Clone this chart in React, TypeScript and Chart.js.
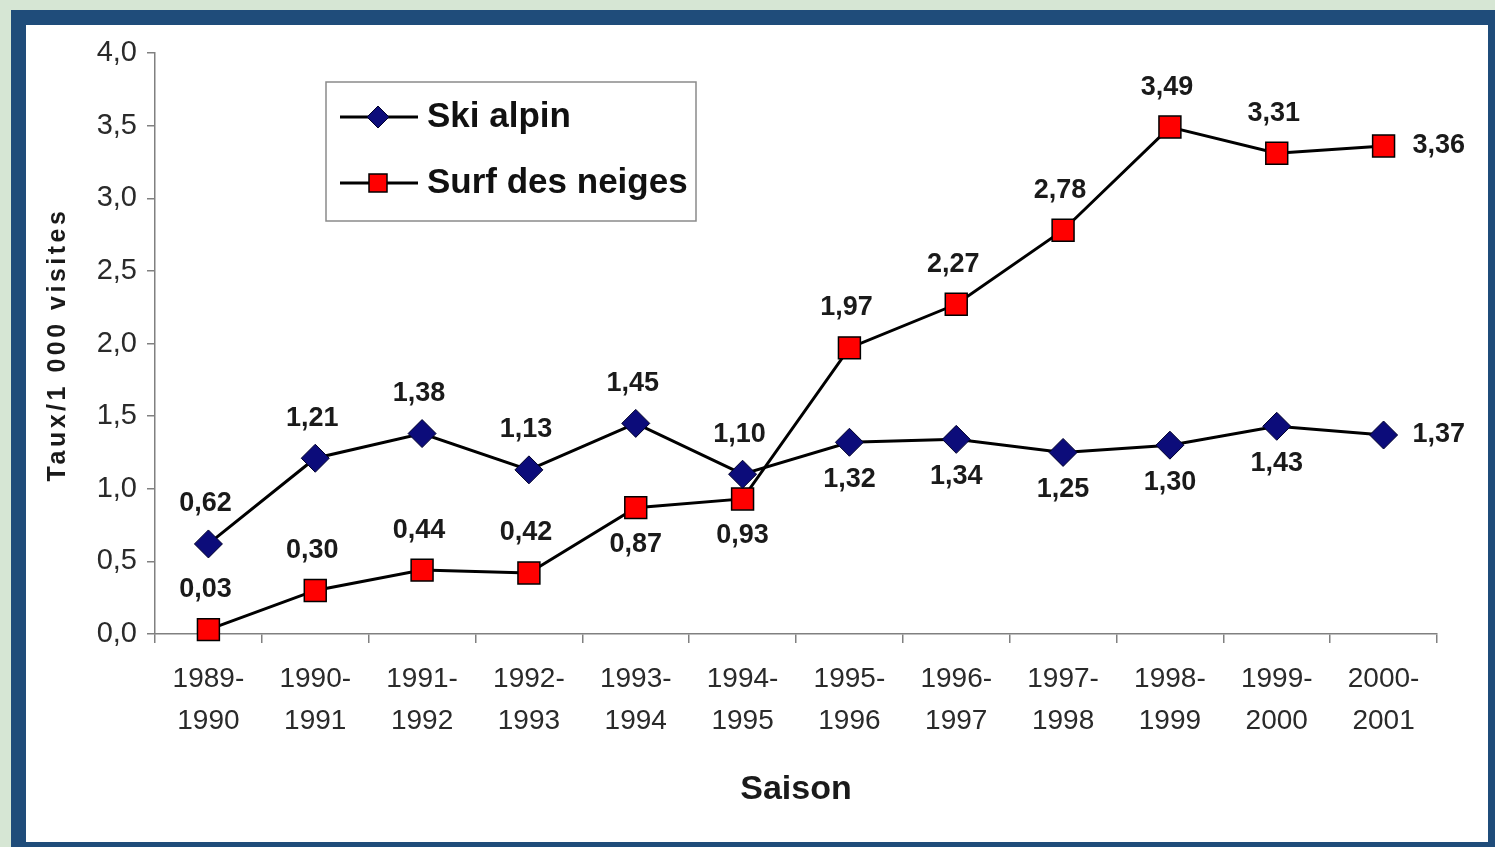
import React, { useEffect, useRef } from 'react';
import { Chart, registerables } from 'chart.js';

Chart.register(...registerables);

const seasons: string[][] = [
  ['1989-', '1990'], ['1990-', '1991'], ['1991-', '1992'], ['1992-', '1993'],
  ['1993-', '1994'], ['1994-', '1995'], ['1995-', '1996'], ['1996-', '1997'],
  ['1997-', '1998'], ['1998-', '1999'], ['1999-', '2000'], ['2000-', '2001'],
];
const skiAlpin = [0.62, 1.21, 1.38, 1.13, 1.45, 1.10, 1.32, 1.34, 1.25, 1.30, 1.43, 1.37];
const surfDesNeiges = [0.03, 0.30, 0.44, 0.42, 0.87, 0.93, 1.97, 2.27, 2.78, 3.49, 3.31, 3.36];
const skiLabelPlacement = ['above', 'above', 'above', 'above', 'above', 'above', 'below', 'below', 'below', 'below', 'below', 'right'];
const surfLabelPlacement = ['above', 'above', 'above', 'above', 'below', 'below', 'above', 'above', 'above', 'above', 'above', 'right'];
const seriesNames = ['Ski alpin', 'Surf des neiges'];
const yAxisTitle = 'Taux/1 000 visites';
const xAxisTitle = 'Saison';

const FONT = "'Liberation Sans', Arial, sans-serif";
const fmt = (v: number, d: number) => v.toFixed(d).replace('.', ',');

function drawMarker(ctx: CanvasRenderingContext2D, style: string, x: number, y: number, r: number, fill: string, stroke: string, lw: number) {
  ctx.save();
  ctx.beginPath();
  if (style === 'rectRot') {
    ctx.moveTo(x, y - r);
    ctx.lineTo(x + r, y);
    ctx.lineTo(x, y + r);
    ctx.lineTo(x - r, y);
    ctx.closePath();
  } else {
    ctx.rect(x - r, y - r, 2 * r, 2 * r);
  }
  ctx.fillStyle = fill;
  ctx.fill();
  ctx.lineWidth = lw;
  ctx.strokeStyle = stroke;
  ctx.stroke();
  ctx.restore();
}

const labelPlugin = {
  id: 'valueLabels',
  afterDatasetsDraw(chart: any) {
    const ctx: CanvasRenderingContext2D = chart.ctx;
    const placements = [skiLabelPlacement, surfLabelPlacement];
    ctx.save();
    ctx.font = `bold 27px ${FONT}`;
    ctx.fillStyle = '#1a1a1a';
    ctx.textBaseline = 'middle';
    chart.data.datasets.forEach((ds: any, di: number) => {
      const meta = chart.getDatasetMeta(di);
      meta.data.forEach((pt: any, i: number) => {
        const p = placements[di][i];
        const text = fmt(ds.data[i], 2);
        if (p === 'right') {
          ctx.textAlign = 'left';
          ctx.fillText(text, pt.x + 29, pt.y);
        } else if (p === 'above') {
          ctx.textAlign = 'center';
          ctx.fillText(text, pt.x - 3, pt.y - 40);
        } else {
          ctx.textAlign = 'center';
          ctx.fillText(text, pt.x, pt.y + 37);
        }
      });
    });
    ctx.restore();
  },
};

const yTitlePlugin = {
  id: 'yTitle',
  afterDraw(chart: any) {
    const ctx: any = chart.ctx;
    const area = chart.chartArea;
    ctx.save();
    ctx.translate(58, (area.top + area.bottom) / 2 + 1);
    ctx.rotate(-Math.PI / 2);
    ctx.font = `bold 25px ${FONT}`;
    ctx.letterSpacing = '3.5px';
    ctx.fillStyle = '#1a1a1a';
    ctx.textAlign = 'center';
    ctx.textBaseline = 'middle';
    ctx.fillText(yAxisTitle, 0, 0);
    ctx.restore();
  },
};

const legendPlugin = {
  id: 'boxLegend',
  afterDraw(chart: any) {
    const ctx: CanvasRenderingContext2D = chart.ctx;
    const area = chart.chartArea;
    const bx = area.left + 171;
    const by = area.top + 29;
    const bw = 370;
    const bh = 139;
    ctx.save();
    ctx.fillStyle = '#ffffff';
    ctx.fillRect(bx, by, bw, bh);
    ctx.strokeStyle = '#8a8a8a';
    ctx.lineWidth = 1.5;
    ctx.strokeRect(bx, by, bw, bh);
    const rows = [by + 35, by + 101];
    chart.data.datasets.forEach((ds: any, i: number) => {
      const y = rows[i];
      ctx.beginPath();
      ctx.moveTo(bx + 14, y);
      ctx.lineTo(bx + 92, y);
      ctx.strokeStyle = ds.borderColor;
      ctx.lineWidth = 3;
      ctx.stroke();
      const r = ds.pointStyle === 'rectRot' ? 11 : 9;
      drawMarker(ctx, ds.pointStyle, bx + 52, y, r, ds.pointBackgroundColor, ds.pointBorderColor, ds.pointBorderWidth);
      ctx.fillStyle = '#111111';
      ctx.font = `bold 35px ${FONT}`;
      ctx.textAlign = 'left';
      ctx.textBaseline = 'middle';
      ctx.fillText(ds.label, bx + 101, y);
    });
    ctx.restore();
  },
};

export default function App() {
  const ref = useRef<HTMLCanvasElement | null>(null);

  useEffect(() => {
    if (!ref.current) return;
    const chart = new Chart(ref.current, {
      type: 'line',
      data: {
        labels: seasons,
        datasets: [
          {
            label: seriesNames[0],
            data: skiAlpin,
            borderColor: '#000000',
            borderWidth: 3,
            pointStyle: 'rectRot',
            pointRadius: 14,
            pointHoverRadius: 14,
            pointBackgroundColor: '#0c0c7a',
            pointBorderColor: '#00002a',
            pointBorderWidth: 1,
            tension: 0,
            clip: false,
          } as any,
          {
            label: seriesNames[1],
            data: surfDesNeiges,
            borderColor: '#000000',
            borderWidth: 3,
            pointStyle: 'rect',
            pointRadius: 15.5,
            pointHoverRadius: 15.5,
            pointBackgroundColor: '#ff0000',
            pointBorderColor: '#000000',
            pointBorderWidth: 1.5,
            tension: 0,
            clip: false,
          } as any,
        ],
      },
      options: {
        animation: false,
        responsive: false,
        events: [],
        layout: { padding: { left: 0, right: 58, top: 53, bottom: 0 } },
        plugins: {
          legend: { display: false },
          tooltip: { enabled: false },
        },
        scales: {
          x: {
            type: 'category',
            offset: true,
            grid: { drawOnChartArea: false, drawTicks: true, tickLength: 9, color: '#808080', lineWidth: 1.5, offset: true },
            border: { color: '#808080', width: 1.5 },
            ticks: {
              font: { family: FONT, size: 28, lineHeight: 1.5 },
              color: '#2a2a2a',
              maxRotation: 0,
              autoSkip: false,
              padding: 15,
            },
            title: {
              display: true,
              text: xAxisTitle,
              font: { family: FONT, size: 34, weight: 'bold' },
              color: '#1a1a1a',
              padding: { top: 0, bottom: 37 },
            },
            afterFit: (s: any) => { s.height = 213; },
          },
          y: {
            min: 0,
            max: 4,
            ticks: {
              stepSize: 0.5,
              font: { family: FONT, size: 29 },
              color: '#2a2a2a',
              padding: 10,
              callback: (v: any) => fmt(Number(v), 1),
            },
            grid: { drawOnChartArea: false, drawTicks: true, tickLength: 8, color: '#808080', lineWidth: 1.5 },
            border: { color: '#808080', width: 1.5 },
            title: { display: false },
            afterFit: (s: any) => { s.width = 155; },
          },
        },
      } as any,
      plugins: [labelPlugin, legendPlugin, yTitlePlugin],
    });
    return () => chart.destroy();
  }, []);

  return (
    <div style={{ position: 'fixed', left: 0, top: 0, width: 1495, height: 847, background: '#d6e6d4', overflow: 'hidden' }}>
      <div
        style={{
          position: 'absolute', left: 11, top: 10, width: 1492, height: 847,
          border: '15px solid #1f4c7a', background: '#ffffff', boxSizing: 'border-box',
        }}
      />
      <canvas ref={ref} width={1495} height={847} style={{ position: 'absolute', left: 0, top: 0, width: 1495, height: 847 }} />
    </div>
  );
}
